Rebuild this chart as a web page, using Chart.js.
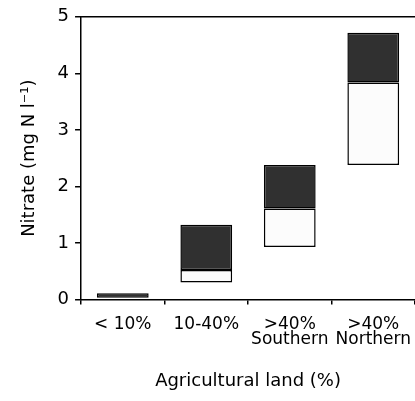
<!DOCTYPE html>
<html>
<head>
<meta charset="utf-8">
<script src="https://cdn.jsdelivr.net/npm/chart.js@4/dist/chart.umd.min.js"></script>
<style>
  html, body { margin: 0; padding: 0; background: #fff; }
  #wrap { width: 415px; height: 401px; position: relative; }
</style>
</head>
<body>
<div id="wrap"><canvas id="nitrate-chart"></canvas></div>
<script>
// categories and ranges (mg N per litre)
const categories = [['< 10%'], ['10-40%'], ['>40%', 'Southern'], ['>40%', 'Northern']];
const lowerRange = [null, [0.30, 0.52], [0.93, 1.61], [2.38, 3.84]];
const upperRange = [[0.03, 0.11], [0.52, 1.32], [1.61, 2.38], [3.84, 4.72]];
const yTicks = [0, 1, 2, 3, 4, 5];

const fontFamily = '"DejaVu Sans", "Liberation Sans", Arial, sans-serif';

// the frame line along the top of the plot
const topLine = {
    id: 'topLine',
    afterDraw(chart) {
        const { ctx, chartArea } = chart;
        ctx.save();
        ctx.strokeStyle = '#000';
        ctx.lineWidth = 1.5;
        ctx.beginPath();
        ctx.moveTo(chartArea.left, chartArea.top);
        ctx.lineTo(chartArea.right, chartArea.top);
        ctx.stroke();
        ctx.restore();
    }
};

const ctx = document.getElementById('nitrate-chart').getContext('2d');
new Chart(ctx, {
    type: 'bar',
    data: {
        labels: categories,
        datasets: [{
            label: 'lower',
            data: lowerRange,
            backgroundColor: '#fcfcfc',
            borderColor: '#000',
            borderWidth: 1.5,
            borderSkipped: false,
            grouped: false,
            barPercentage: 0.62,
            categoryPercentage: 1
        }, {
            label: 'upper',
            data: upperRange,
            backgroundColor: '#303030',
            borderColor: '#000',
            borderWidth: 1.5,
            borderSkipped: false,
            grouped: false,
            barPercentage: 0.62,
            categoryPercentage: 1
        }]
    },
    options: {
        responsive: true,
        maintainAspectRatio: false,
        animation: false,
        layout: { padding: { top: 13, right: 0, left: 19, bottom: 9 } },
        plugins: {
            legend: { display: false },
            tooltip: { enabled: false }
        },
        scales: {
            x: {
                afterFit(scale) {
                    // let the plot run to the right edge like the original
                    scale.paddingRight = 0;
                    scale.paddingLeft = 0;
                },
                grid: { drawOnChartArea: false, tickLength: 5, color: '#000', lineWidth: 1.5 },
                border: { color: '#000', width: 1.5 },
                ticks: {
                    color: '#000',
                    maxRotation: 0,
                    autoSkip: false,
                    padding: 13,
                    font: { family: fontFamily, size: 17, lineHeight: 0.88 }
                },
                title: {
                    display: true,
                    text: 'Agricultural land (%)',
                    color: '#000',
                    font: { family: fontFamily, size: 18 },
                    padding: { top: 10, bottom: 0 }
                }
            },
            y: {
                min: 0,
                max: 5,
                afterBuildTicks(axis) {
                    axis.ticks = yTicks.map(v => ({ value: v }));
                },
                grid: { drawOnChartArea: false, tickLength: 6, color: '#000', lineWidth: 1.5 },
                border: { color: '#000', width: 1.5 },
                ticks: {
                    color: '#000',
                    padding: 6,
                    font: { family: fontFamily, size: 18 }
                },
                title: {
                    display: true,
                    text: 'Nitrate (mg N l\u207B\u00B9)',
                    color: '#000',
                    font: { family: fontFamily, size: 18 },
                    padding: { top: 0, bottom: 11 }
                }
            }
        }
    },
    plugins: [topLine]
});
</script>
</body>
</html>
